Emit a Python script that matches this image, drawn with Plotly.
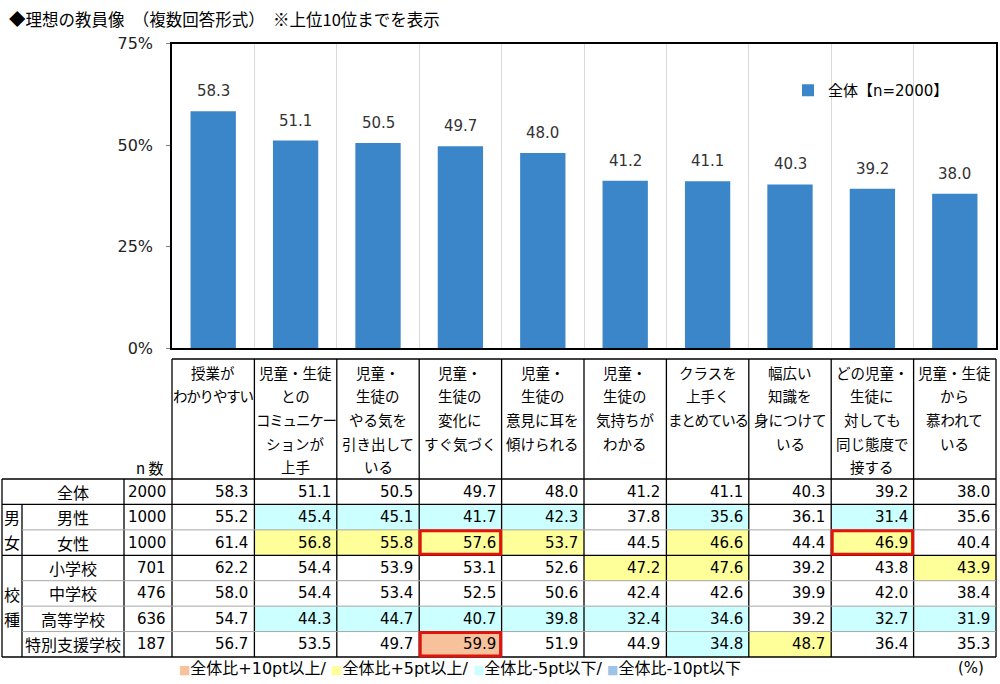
import plotly.graph_objects as go

# ---------------- data ----------------
categories = [
    "授業が\nわかりやすい",
    "児童・生徒\nとの\nコミュニケー\nションが\n上手",
    "児童・\n生徒の\nやる気を\n引き出して\nいる",
    "児童・\n生徒の\n変化に\nすぐ気づく",
    "児童・\n生徒の\n意見に耳を\n傾けられる",
    "児童・\n生徒の\n気持ちが\nわかる",
    "クラスを\n上手く\nまとめている",
    "幅広い\n知識を\n身につけて\nいる",
    "どの児童・\n生徒に\n対しても\n同じ態度で\n接する",
    "児童・生徒\nから\n慕われて\nいる",
]
overall = [58.3, 51.1, 50.5, 49.7, 48.0, 41.2, 41.1, 40.3, 39.2, 38.0]
male = [55.2, 45.4, 45.1, 41.7, 42.3, 37.8, 35.6, 36.1, 31.4, 35.6]
female = [61.4, 56.8, 55.8, 57.6, 53.7, 44.5, 46.6, 44.4, 46.9, 40.4]
elementary = [62.2, 54.4, 53.9, 53.1, 52.6, 47.2, 47.6, 39.2, 43.8, 43.9]
junior_high = [58.0, 54.4, 53.4, 52.5, 50.6, 42.4, 42.6, 39.9, 42.0, 38.4]
high_school = [54.7, 44.3, 44.7, 40.7, 39.8, 32.4, 34.6, 39.2, 32.7, 31.9]
special_needs = [56.7, 53.5, 49.7, 59.9, 51.9, 44.9, 34.8, 48.7, 36.4, 35.3]

row_labels = ["全体", "男性", "女性", "小学校", "中学校", "高等学校", "特別支援学校"]
row_n = [2000, 1000, 1000, 701, 476, 636, 187]
rows = [overall, male, female, elementary, junior_high, high_school, special_needs]
groups = [("男女", 1, 2), ("校種", 3, 6)]          # label, first row, last row
red_boxes = [(2, 3), (2, 8), (6, 3)]               # (row, column)
y_ticks = [0, 25, 50, 75]
series_name = "全体【n=2000】"
title_text = "◆理想の教員像　（複数回答形式）　※上位10位までを表示"
legend_labels = ["全体比+10pt以上/ ", "全体比+5pt以上/ ", "全体比-5pt以下/ ", "全体比-10pt以下"]

# ---------------- style ----------------
W, H = 1000, 684
BAR = "#3B86C8"
C_P10, C_P5, C_M5, C_M10 = "#F7C29B", "#FFFF99", "#CCFFFF", "#9DC3E6"
NUMF = "DejaVu Sans, Noto Sans CJK JP"
JPF = "Noto Sans CJK JP, DejaVu Sans"

def px(x):
    return x / W

def py(y):
    return 1 - y / H

# table geometry (pixels)
T_LEFT, G_RIGHT, L_RIGHT, N_RIGHT, T_RIGHT = 2, 22, 124, 172, 996
HEAD_TOP, HEAD_BOT, T_BOT = 359, 479, 657
n_cols = len(categories)
n_rows = len(rows)
col_w = (T_RIGHT - N_RIGHT) / n_cols
row_h = (T_BOT - HEAD_BOT) / n_rows

def col_x(j):
    return N_RIGHT + j * col_w

def row_y(i):
    return HEAD_BOT + i * row_h

fig = go.Figure()
x_idx = list(range(n_cols))
fig.add_trace(go.Bar(x=x_idx, y=overall, marker=dict(color=BAR, line=dict(width=0)),
                     width=0.55, name=series_name, showlegend=True, hoverinfo="skip"))

shapes = []
annotations = []

# bar value labels
for j, v in enumerate(overall):
    annotations.append(dict(x=j, y=v, xref="x", yref="y", text=f"{v:.1f}", showarrow=False,
                            yanchor="bottom", yshift=9,
                            font=dict(family=NUMF, size=15, color="#333333")))

def line(x0, y0, x1, y1, color="black", w=1.3):
    shapes.append(dict(type="line", xref="paper", yref="paper", x0=px(x0), y0=py(y0),
                       x1=px(x1), y1=py(y1), line=dict(color=color, width=w)))

# cell fills
def cell_color(v, base):
    d = round(v - base, 1)
    if d >= 10:
        return C_P10
    if d >= 5:
        return C_P5
    if d <= -10:
        return C_M10
    if d <= -5:
        return C_M5
    return None

for i, r in enumerate(rows):
    for j, v in enumerate(r):
        c = cell_color(v, overall[j]) if i > 0 else None
        if c:
            shapes.append(dict(type="rect", xref="paper", yref="paper", x0=px(col_x(j)), x1=px(col_x(j + 1)),
                               y0=py(row_y(i)), y1=py(row_y(i + 1)), fillcolor=c, line=dict(width=0),
                               layer="below"))
        annotations.append(dict(x=px(col_x(j + 1) - 4), y=py(row_y(i) + row_h / 2), xref="paper", yref="paper",
                                text=f"{v:.1f}", showarrow=False, xanchor="right", yanchor="middle",
                                font=dict(family=NUMF, size=15, color="black")))
    annotations.append(dict(x=px(N_RIGHT - 4), y=py(row_y(i) + row_h / 2), xref="paper", yref="paper",
                            text=str(row_n[i]), showarrow=False, xanchor="right", yanchor="middle",
                            font=dict(family=NUMF, size=15, color="black")))
    annotations.append(dict(x=px((G_RIGHT + L_RIGHT) / 2), y=py(row_y(i) + row_h / 2), xref="paper", yref="paper",
                            text=row_labels[i], showarrow=False, xanchor="center", yanchor="middle",
                            font=dict(family=JPF, size=16, color="black")))

# group labels (vertical)
for label, r0, r1 in groups:
    mid = (row_y(r0) + row_y(r1 + 1)) / 2
    nch = len(label)
    for k, ch in enumerate(label):
        yy = mid + (k - (nch - 1) / 2) * 25
        annotations.append(dict(x=px((T_LEFT + G_RIGHT) / 2), y=py(yy), xref="paper", yref="paper",
                                text=ch, showarrow=False, xanchor="center", yanchor="middle",
                                font=dict(family=JPF, size=16, color="black")))

# header labels
for j, cat in enumerate(categories):
    for k, ln in enumerate(cat.split("\n")):
        txt = ln if len(ln) < 6 else f"<span style='letter-spacing:-1.2px'>{ln}</span>"
        annotations.append(dict(x=px(col_x(j) + col_w / 2), y=py(372 + k * 23.7), xref="paper", yref="paper",
                                text=txt, showarrow=False, xanchor="center", yanchor="middle",
                                font=dict(family=JPF, size=14.5, color="black")))
annotations.append(dict(x=px(N_RIGHT - 6), y=py(467), xref="paper", yref="paper", text="n 数",
                        showarrow=False, xanchor="right", yanchor="middle",
                        font=dict(family=JPF, size=15, color="black")))

# grid lines of table
line(N_RIGHT, HEAD_TOP, T_RIGHT, HEAD_TOP)
for j in range(n_cols + 1):
    line(col_x(j), HEAD_TOP, col_x(j), T_BOT)
line(T_LEFT, HEAD_BOT, T_RIGHT, HEAD_BOT)
line(T_LEFT, T_BOT, T_RIGHT, T_BOT)
line(T_LEFT, HEAD_BOT, T_LEFT, T_BOT)
line(L_RIGHT, HEAD_BOT, L_RIGHT, T_BOT)
line(G_RIGHT, row_y(1), G_RIGHT, T_BOT)
group_starts = [g[1] for g in groups]
for i in range(1, n_rows):
    if i in group_starts:
        line(T_LEFT, row_y(i), T_RIGHT, row_y(i))
    else:
        line(G_RIGHT, row_y(i), T_RIGHT, row_y(i), color="#A6A6A6", w=1)

# red highlight boxes
for (i, j) in red_boxes:
    shapes.append(dict(type="rect", xref="paper", yref="paper", x0=px(col_x(j) + 1), x1=px(col_x(j + 1) - 1),
                       y0=py(row_y(i) + 1), y1=py(row_y(i + 1) - 1), fillcolor="rgba(0,0,0,0)",
                       line=dict(color="#E3120B", width=3)))

# title
annotations.append(dict(x=px(7), y=py(19), xref="paper", yref="paper", text=title_text, showarrow=False,
                        xanchor="left", yanchor="middle", font=dict(family=JPF, size=16.5, color="black")))

# bottom legend
legend_colors = [C_P10, C_P5, C_M5, C_M10]
leg_txt = "".join(f"<span style='color:{c};font-size:12px'>■</span>{t}" for c, t in zip(legend_colors, legend_labels))
annotations.append(dict(x=px(177), y=py(668), xref="paper", yref="paper", text=leg_txt, showarrow=False,
                        xanchor="left", yanchor="middle", font=dict(family=NUMF, size=16, color="black")))
annotations.append(dict(x=px(986), y=py(668), xref="paper", yref="paper", text="(%)", showarrow=False,
                        xanchor="right", yanchor="middle", font=dict(family=NUMF, size=15, color="black")))

fig.update_layout(
    width=W, height=H, margin=dict(l=0, r=0, t=0, b=0, pad=0, autoexpand=False),
    paper_bgcolor="white", plot_bgcolor="white",
    shapes=shapes, annotations=annotations,
    xaxis=dict(domain=[px(N_RIGHT), px(T_RIGHT)], range=[-0.5, n_cols - 0.5], showticklabels=False,
               ticks="", showgrid=True, tick0=0.5, dtick=1, gridcolor="#D9D9D9", gridwidth=1,
               zeroline=False, showline=True, mirror=True, linecolor="black", linewidth=1.5,
               automargin=False),
    yaxis=dict(domain=[py(348), py(43.5)], range=[0, 75], tickvals=y_ticks,
               ticktext=[f"{v}%" for v in y_ticks], ticks="outside", ticklen=4, tickcolor="#808080",
               ticklabelstandoff=10, automargin=False,
               tickfont=dict(family=NUMF, size=16, color="#222222"), showgrid=False, zeroline=False,
               showline=True, mirror=True, linecolor="black", linewidth=1.5),
    legend=dict(x=px(788), y=py(74), xanchor="left", yanchor="top", bgcolor="rgba(0,0,0,0)",
                font=dict(family=NUMF, size=15, color="black")),
    font=dict(family=NUMF),
)

fig.write_html("out.html", config={"displayModeBar": False},
               post_script="document.body.style.margin='0';")
